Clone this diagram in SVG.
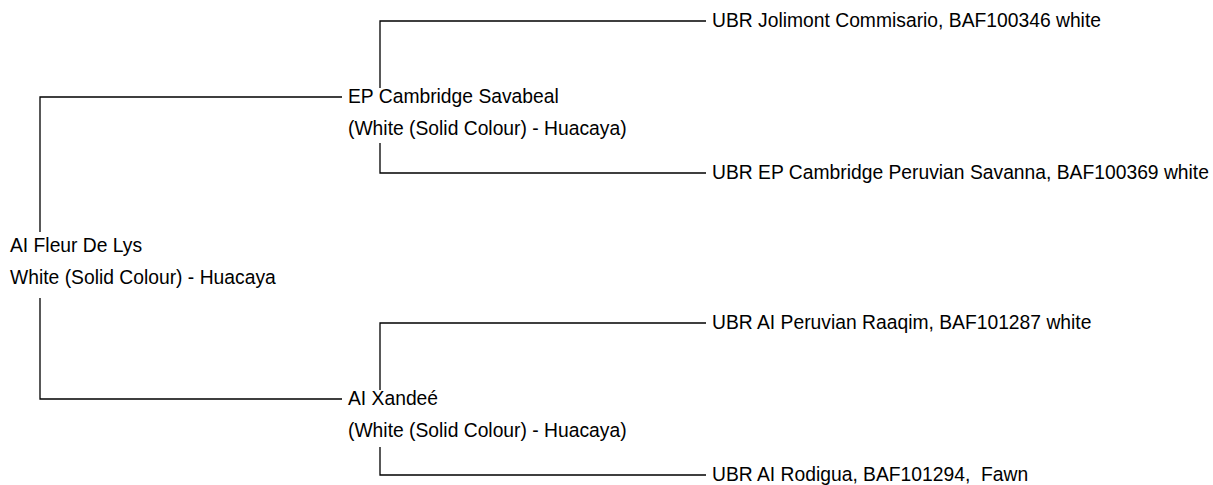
<svg xmlns="http://www.w3.org/2000/svg" width="1213" height="485" viewBox="0 0 1213 485">
<style>
  .bg { fill: #ffffff; }
  .lbl { font-family: "Liberation Sans", Arial, sans-serif; font-size: 19.3px; fill: #000000; }
  .conn { fill: none; stroke: #000000; stroke-width: 1.3; }
</style>
<rect class="bg" x="0" y="0" width="1213" height="485"/>
<g id="connectors">
  <polyline class="conn" points="40,232 40,97 342,97"/>
  <polyline class="conn" points="40,298 40,399 342,399"/>
  <polyline class="conn" points="380,88 380,21 706,21"/>
  <polyline class="conn" points="380,143 380,173 706,173"/>
  <polyline class="conn" points="380,390 380,323 706,323"/>
  <polyline class="conn" points="380,447 380,475 706,475"/>
</g>
<g id="node-root">
  <text class="lbl" x="10" y="252">AI Fleur De Lys</text>
  <text class="lbl" x="10" y="284">White (Solid Colour) - Huacaya</text>
</g>
<g id="node-sire">
  <text class="lbl" x="348" y="103">EP Cambridge Savabeal</text>
  <text class="lbl" x="348" y="135">(White (Solid Colour) - Huacaya)</text>
</g>
<g id="node-dam">
  <text class="lbl" x="348" y="405">AI Xandeé</text>
  <text class="lbl" x="348" y="437">(White (Solid Colour) - Huacaya)</text>
</g>
<g id="node-sire-sire">
  <text class="lbl" x="712" y="27">UBR Jolimont Commisario, BAF100346 white</text>
</g>
<g id="node-sire-dam">
  <text class="lbl" x="712" y="179">UBR EP Cambridge Peruvian Savanna, BAF100369 white</text>
</g>
<g id="node-dam-sire">
  <text class="lbl" x="712" y="329">UBR AI Peruvian Raaqim, BAF101287 white</text>
</g>
<g id="node-dam-dam">
  <text class="lbl" x="712" y="481" xml:space="preserve">UBR AI Rodigua, BAF101294,  Fawn</text>
</g>
</svg>
